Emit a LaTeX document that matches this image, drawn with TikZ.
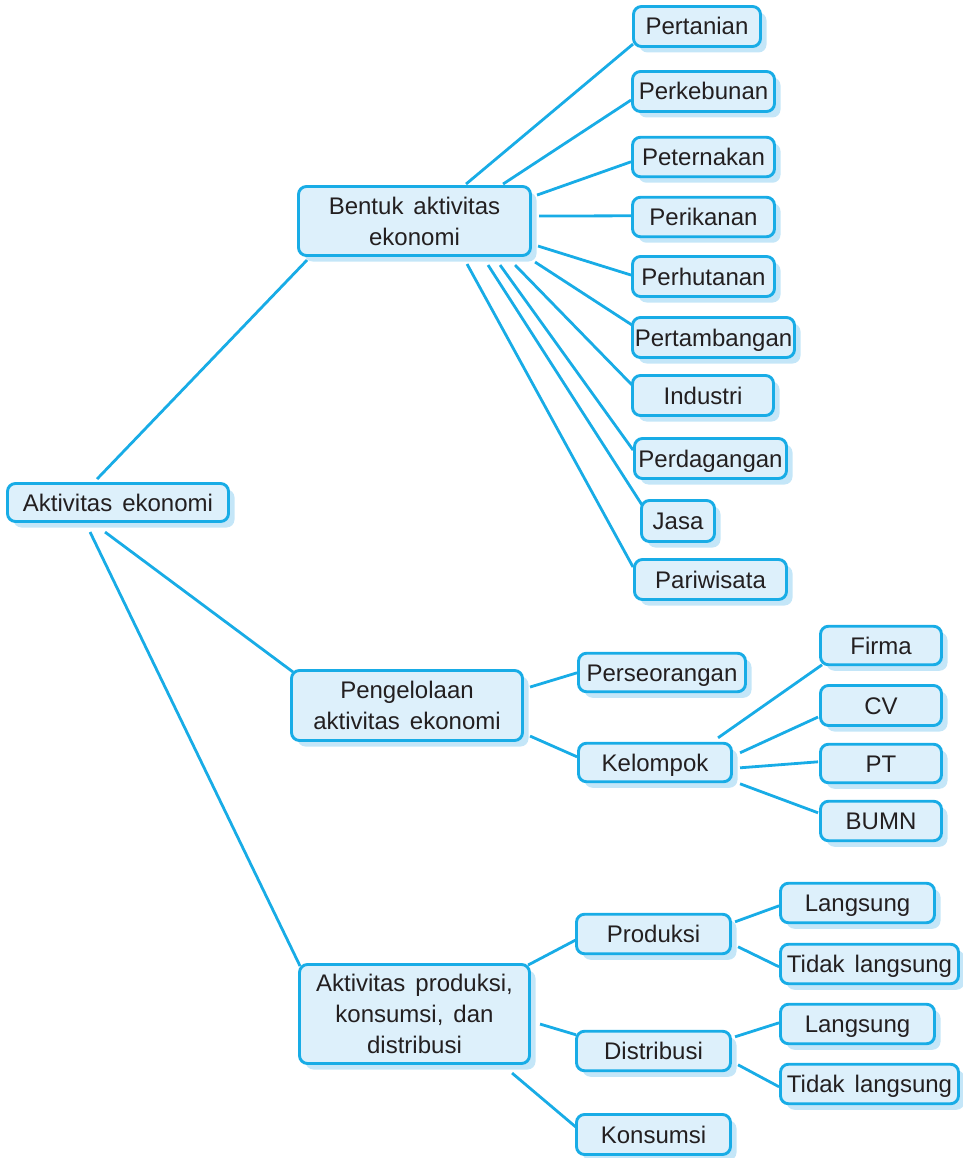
\documentclass[tikz,border=0pt]{standalone}
\usepackage{fontspec}
\setmainfont{Liberation Sans}[WordSpace=1.5]
\usetikzlibrary{shadows,calc,backgrounds}
\definecolor{edgeblue}{HTML}{18ACE6}
\definecolor{boxfill}{HTML}{DDF0FB}
\definecolor{shadowc}{HTML}{C4E6F8}
\definecolor{txt}{HTML}{231F20}
\tikzset{
  box/.style={draw=edgeblue, line width=2.9pt, fill=boxfill, rounded corners=8pt,
    align=center, inner sep=0pt, text=txt, font=\fontsize{24}{31}\selectfont,
    drop shadow={shadow xshift=6pt, shadow yshift=-6pt, fill=shadowc, opacity=1}},
  sbox/.style={box, text height=17pt, text depth=0pt},
  conn/.style={draw=edgeblue, line width=2.8pt}
}
\begin{document}
\begin{tikzpicture}[x=1pt,y=-1pt]
\useasboundingbox (0,0) rectangle (962,1158);
% level 0
\node[sbox, minimum width=221pt, minimum height=38pt] (root) at (118,502.5) {Aktivitas ekonomi};
% level 1
\node[box, minimum width=232pt, minimum height=69pt] (bentuk) at (414.5,221) {Bentuk aktivitas\\ekonomi};
\node[box, minimum width=231pt, minimum height=70pt] (peng) at (407,705.5) {Pengelolaan\\aktivitas ekonomi};
\node[box, minimum width=230pt, minimum height=99pt] (act) at (414.5,1014) {Aktivitas produksi,\\konsumsi, dan\\distribusi};
% bentuk children
\node[sbox, minimum width=127pt, minimum height=40pt] (pertanian) at (697,26.5) {Pertanian};
\node[sbox, minimum width=142pt, minimum height=40pt] (perkebunan) at (703.5,91.5) {Perkebunan};
\node[sbox, minimum width=142pt, minimum height=39.5pt] (peternakan) at (703.5,157) {Peternakan};
\node[sbox, minimum width=142pt, minimum height=39.5pt] (perikanan) at (703.5,217) {Perikanan};
\node[sbox, minimum width=142pt, minimum height=40pt] (perhutanan) at (703.5,276.5) {Perhutanan};
\node[sbox, minimum width=162pt, minimum height=40pt] (pertambangan) at (713.5,337.5) {Pertambangan};
\node[sbox, minimum width=141pt, minimum height=40pt] (industri) at (703,395.5) {Industri};
\node[sbox, minimum width=152pt, minimum height=40pt] (perdagangan) at (710.5,458.5) {Perdagangan};
\node[sbox, minimum width=73pt, minimum height=41pt] (jasa) at (678,521) {Jasa};
\node[sbox, minimum width=152pt, minimum height=40pt] (pariwisata) at (710.5,579.5) {Pariwisata};
% pengelolaan children
\node[sbox, minimum width=167pt, minimum height=38.5pt] (perseorangan) at (662,672.5) {Perseorangan};
\node[sbox, minimum width=153pt, minimum height=38.5pt] (kelompok) at (655,762.5) {Kelompok};
\node[sbox, minimum width=121pt, minimum height=38.5pt] (firma) at (881,645.5) {Firma};
\node[sbox, minimum width=121pt, minimum height=40pt] (cv) at (881,705.5) {CV};
\node[sbox, minimum width=121pt, minimum height=38.5pt] (pt) at (881,763.5) {PT};
\node[sbox, minimum width=121pt, minimum height=39.5pt] (bumn) at (881,821) {BUMN};
% act children
\node[sbox, minimum width=154pt, minimum height=39.5pt] (produksi) at (653.5,934) {Produksi};
\node[sbox, minimum width=154pt, minimum height=39.5pt] (distribusi) at (653.5,1051) {Distribusi};
\node[sbox, minimum width=154pt, minimum height=40pt] (konsumsi) at (653.5,1134.5) {Konsumsi};
\node[sbox, minimum width=154pt, minimum height=39.5pt] (lang1) at (857.5,903) {Langsung};
\node[sbox, minimum width=178pt, minimum height=39.5pt] (tidak1) at (869.5,964) {Tidak langsung};
\node[sbox, minimum width=154pt, minimum height=39.5pt] (lang2) at (857.5,1024) {Langsung};
\node[sbox, minimum width=178pt, minimum height=39.5pt] (tidak2) at (869.5,1084) {Tidak langsung};

\begin{scope}[on background layer]
% root
\draw[conn] ($(root.north west)+(91,-3)$) -- ($(bentuk.north west)+(10,75)$);
\draw[conn] ($(root.north west)+(99,50)$) -- ($(peng.north west)+(3,3)$);
\draw[conn] ($(root.north west)+(84,50)$) -- ($(act.north west)+(2,3)$);
% bentuk
\draw[conn] ($(bentuk.north west)+(169,-1)$) -- ($(pertanian.north west)+(1,39)$);
\draw[conn] ($(bentuk.north west)+(206,-1)$) -- ($(perkebunan.north west)+(0,30)$);
\draw[conn] ($(bentuk.north west)+(240,10)$) -- ($(peternakan.north west)+(0,26)$);
\draw[conn] ($(bentuk.north west)+(242,31)$) -- ($(perikanan.north west)+(0,20)$);
\draw[conn] ($(bentuk.north west)+(241,61)$) -- ($(perhutanan.north west)+(0,20)$);
\draw[conn] ($(bentuk.north west)+(238,77)$) -- ($(pertambangan.north west)+(1,9)$);
\draw[conn] ($(bentuk.north west)+(218,80)$) -- ($(industri.north west)+(1,11)$);
\draw[conn] ($(bentuk.north west)+(203,80)$) -- ($(perdagangan.north west)+(0,13)$);
\draw[conn] ($(bentuk.north west)+(191,80)$) -- ($(jasa.north west)+(2,6)$);
\draw[conn] ($(bentuk.north west)+(170,79)$) -- ($(pariwisata.north west)+(0,9)$);
% pengelolaan
\draw[conn] ($(peng.north west)+(240,18)$) -- ($(perseorangan.north west)+(0,21)$);
\draw[conn] ($(peng.north west)+(240,67)$) -- ($(kelompok.north west)+(0,15)$);
% kelompok
\draw[conn] ($(kelompok.north west)+(141,-4)$) -- ($(firma.north west)+(3,40)$);
\draw[conn] ($(kelompok.north west)+(163,11)$) -- ($(cv.north west)+(-1,33)$);
\draw[conn] ($(kelompok.north west)+(163,26)$) -- ($(pt.north west)+(-1,19)$);
\draw[conn] ($(kelompok.north west)+(163,42)$) -- ($(bumn.north west)+(-1,13)$);
% act
\draw[conn] ($(act.north west)+(230,2)$) -- ($(produksi.north west)+(1,27)$);
\draw[conn] ($(act.north west)+(242,61)$) -- ($(distribusi.north west)+(1,5)$);
\draw[conn] ($(act.north west)+(214,110)$) -- ($(konsumsi.north west)+(2,15)$);
% produksi / distribusi
\draw[conn] ($(produksi.north west)+(160,9)$) -- ($(lang1.north west)+(0,24)$);
\draw[conn] ($(produksi.north west)+(163,34)$) -- ($(tidak1.north west)+(0,24)$);
\draw[conn] ($(distribusi.north west)+(160,7)$) -- ($(lang2.north west)+(0,20)$);
\draw[conn] ($(distribusi.north west)+(163,35)$) -- ($(tidak2.north west)+(0,24)$);
\end{scope}
\end{tikzpicture}
\end{document}
